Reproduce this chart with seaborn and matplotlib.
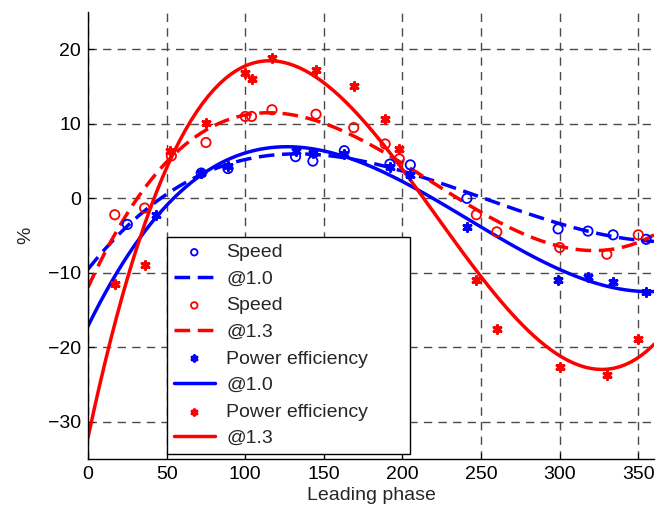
import numpy as np
import pandas as pd
import seaborn as sns
import matplotlib
matplotlib.use("Agg")
import matplotlib.pyplot as plt

# ---- data ----
speed10_x = [25, 72, 89, 132, 143, 163, 192, 205, 241, 299, 318, 334, 355]
speed10_y = [-3.5, 3.4, 4.0, 5.6, 5.0, 6.4, 4.6, 4.5, 0.0, -4.1, -4.4, -4.9, -5.5]

speed13_x = [17, 36, 53, 75, 100, 104, 117, 145, 169, 189, 198, 247, 260, 300, 330, 350]
speed13_y = [-2.2, -1.3, 5.7, 7.5, 11.0, 11.0, 11.9, 11.3, 9.5, 7.3, 5.3, -2.2, -4.5, -6.6, -7.5, -4.9]

pe10_x = [43, 72, 89, 132, 143, 163, 192, 205, 241, 299, 318, 334, 355]
pe10_y = [-2.2, 3.4, 4.3, 6.4, 6.1, 5.9, 4.2, 3.2, -3.9, -10.9, -10.6, -11.3, -12.6]

pe13_x = [17, 36, 52, 75, 100, 104, 117, 145, 169, 189, 198, 247, 260, 300, 330, 350]
pe13_y = [-11.5, -9.0, 6.4, 10.1, 16.8, 16.0, 18.9, 17.3, 15.1, 10.6, 6.6, -10.9, -17.6, -22.6, -23.7, -18.9]

x_ticks = [0, 50, 100, 150, 200, 250, 300, 350]
y_ticks = [-30, -20, -10, 0, 10, 20]

sns.set_style("white")
plt.rcParams['font.family'] = ['Liberation Sans', 'DejaVu Sans']
FS = 14
plt.rcParams['font.size'] = FS

fig = plt.figure(figsize=(6.67, 5.08), dpi=100)
ax = fig.add_axes([0.132, 0.0965, 0.8485, 0.8795])
ax.set_xlim(0, 360)
ax.set_ylim(-35, 25)

BLUE = (0, 0, 1)
RED = (1, 0, 0)
star = (6, 2, 0)

series = [
    (speed10_x, speed10_y, BLUE, 'o', '--', 'Speed', '@1.0'),
    (speed13_x, speed13_y, RED, 'o', '--', 'Speed', '@1.3'),
    (pe10_x, pe10_y, BLUE, star, '-', 'Power efficiency', '@1.0'),
    (pe13_x, pe13_y, RED, star, '-', 'Power efficiency', '@1.3'),
]

for xs, ys, col, mk, ls, lab1, lab2 in series:
    df = pd.DataFrame({'phase': xs, 'val': ys})
    if mk == 'o':
        sns.scatterplot(data=df, x='phase', y='val', ax=ax, marker='o',
                        facecolor='none', edgecolor=col, linewidth=1.3, s=45,
                        label=lab1, zorder=4)
    else:
        sns.scatterplot(data=df, x='phase', y='val', ax=ax, marker=mk,
                        color=col, edgecolor=col, linewidth=2.2, s=30,
                        label=lab1, zorder=4)
    kws = dict(linestyle=ls, linewidth=2.5)
    if ls == '--':
        kws['dashes'] = (4.5, 2.2)
    sns.regplot(data=df, x='phase', y='val', ax=ax, order=3, ci=None,
                scatter=False, truncate=False, label=lab2, color=col,
                line_kws=kws)

ax.set_xlim(0, 360)
ax.set_ylim(-35, 25)
ax.set_xticks(x_ticks)
ax.set_yticks(y_ticks)
ax.grid(True, color='#4a4a4a', linestyle=(0, (6, 4.5)), linewidth=1.0)
ax.set_axisbelow(True)
for s in ['top', 'right']:
    ax.spines[s].set_visible(False)
for s in ['left', 'bottom']:
    ax.spines[s].set_color('black')
    ax.spines[s].set_linewidth(1.0)
ax.tick_params(direction='in', length=4, colors='black', labelsize=FS,
               left=True, bottom=True, pad=5)
ax.set_xlabel('Leading phase', fontsize=FS, labelpad=3)
ax.set_ylabel('%', fontsize=FS, labelpad=10)

handles, labels = ax.get_legend_handles_labels()
leg = ax.legend(handles, labels, loc='lower left',
                bbox_to_anchor=(0.1396, 0.011, 0.429, 0.48), mode='expand',
                borderaxespad=0, frameon=True, fancybox=False, shadow=False,
                handlelength=2.1, labelspacing=0.46, borderpad=0.35,
                handletextpad=0.6, fontsize=FS, markerscale=0.7)
leg.get_frame().set_edgecolor('black')
leg.get_frame().set_linewidth(1.0)
leg.get_frame().set_alpha(1)

fig.savefig('out.png', dpi=100)
